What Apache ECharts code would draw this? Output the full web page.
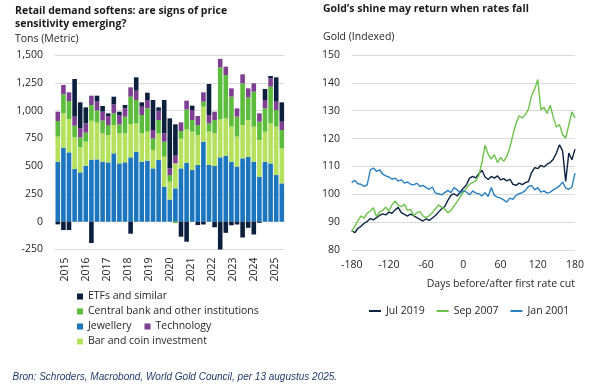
<!DOCTYPE html>
<html><head><meta charset="utf-8">
<script src="https://cdn.jsdelivr.net/npm/echarts@6/dist/echarts.min.js"></script>
<style>html,body{margin:0;padding:0;background:#fff}#c{width:593px;height:390px}</style>
</head><body><div id="c"></div>
<script>
// ---- Left chart: quarterly gold demand (tonnes) ----
const quarters = ['2015 Q2','2015 Q3','2015 Q4','2016 Q1','2016 Q2','2016 Q3','2016 Q4','2017 Q1','2017 Q2','2017 Q3','2017 Q4','2018 Q1','2018 Q2','2018 Q3','2018 Q4','2019 Q1','2019 Q2','2019 Q3','2019 Q4','2020 Q1','2020 Q2','2020 Q3','2020 Q4','2021 Q1','2021 Q2','2021 Q3','2021 Q4','2022 Q1','2022 Q2','2022 Q3','2022 Q4','2023 Q1','2023 Q2','2023 Q3','2023 Q4','2024 Q1','2024 Q2','2024 Q3','2024 Q4','2025 Q1','2025 Q2'];
const jewellery    = [540,666,624,474,444,504,558,561,540,534,615,525,534,579,630,540,549,480,555,315,200,300,480,530,465,510,720,510,501,579,594,540,495,570,585,540,405,540,525,420,345];
const barAndCoin   = [225,309,300,285,225,216,350,330,255,246,255,270,261,300,255,255,261,165,240,270,160,225,270,300,345,270,315,300,294,342,336,315,270,300,330,315,330,270,360,435,315];
const centralBank  = [141,171,162,105,90,81,142,110,115,90,105,81,150,246,210,165,210,105,120,135,60,-12,66,180,105,90,45,75,120,468,390,270,180,375,204,315,165,210,330,150,165];
const technology   = [84,84,78,81,81,84,84,80,80,80,80,80,75,84,84,75,75,75,84,75,60,69,78,79,90,81,84,75,75,76,75,75,75,81,81,75,75,75,75,75,75];
const etfs         = [-24,-75,-75,339,234,144,-192,53,51,25,70,34,30,-108,120,39,66,270,30,300,450,282,-135,-180,39,-30,-25,279,-50,-250,-100,-32,-25,-142,-55,-115,-10,99,21,219,174];
const yearTicks    = [2015,2016,2017,2018,2019,2020,2021,2022,2023,2024,2025];
const demandTicks  = [-250,0,250,500,750,1000,1250,1500];

// ---- Right chart: gold indexed around first rate cut ----
const days = [-180,-175,-170,-165,-160,-155,-150,-145,-140,-135,-130,-125,-120,-115,-110,-105,-100,-95,-90,-85,-80,-75,-70,-65,-60,-55,-50,-45,-40,-35,-30,-25,-20,-15,-10,-5,0,5,10,15,20,25,30,35,40,45,50,55,60,65,70,75,80,85,90,95,100,105,110,115,120,125,130,135,140,145,150,155,160,165,170,175,180];
const jul2019 = [87,86.2,87.8,88.5,89.6,90.2,91.3,90.8,91.6,92.4,93.0,92.6,93.6,93.2,94.4,95.3,93.4,92.8,92.2,92.9,92.3,91.6,91.0,90.4,91.2,90.6,91.5,92.4,93.6,94.8,95.6,97.8,99.6,100.2,99.4,100.8,102.2,103.4,105.8,106.4,105.9,107.4,108.6,106.2,105.3,106.4,105.8,106.6,105.2,105.6,104.8,105.4,103.6,103.2,104.0,103.5,104.2,104.6,107.8,109.6,109.2,110.4,109.8,110.8,111.4,112.6,114.8,117.8,115.6,104.6,114.8,112.4,116.2];
const sep2007 = [86.5,88.6,90.6,92.2,91.4,93.2,94.0,95.2,92.0,93.6,94.2,95.4,94.0,96.2,97.6,96.0,95.6,96.4,94.2,94.6,92.4,93.4,93.8,92.2,91.6,92.4,93.4,94.8,96.2,95.4,94.6,93.4,94.2,95.8,97.4,99.2,100.8,102.2,103.6,104.2,104.8,106.8,111.4,117.6,114.4,112.6,114.2,111.4,113.2,111.8,113.6,116.8,121.4,125.6,128.2,127.4,128.6,130.6,135.4,137.8,141.2,130.4,131.2,129.0,132.0,127.6,124.2,125.0,121.4,120.2,124.8,129.6,127.4];
const jan2001 = [104.2,105.0,103.8,103.6,102.8,103.4,108.8,109.4,108.2,108.8,107.2,106.6,106.2,105.4,105.8,104.8,105.2,104.0,104.4,103.6,103.4,104.0,102.8,103.2,102.4,101.8,102.6,100.4,100.2,99.8,100.6,101.4,100.6,102.4,101.6,100.4,101.2,100.8,99.8,101.2,100.4,100.2,99.4,100.6,99.2,102.4,99.6,99.0,98.6,98.0,97.2,98.6,98.2,99.6,100.2,100.6,101.4,102.8,103.2,101.6,102.4,100.8,101.2,100.4,100.8,101.6,102.2,103.0,104.4,102.2,101.8,102.6,107.6];
const dayTicks = [-180,-120,-60,0,60,120,180];
const goldTicks = [80,90,100,110,120,130,140,150];

const FONT = '"Open Sans", "Noto Sans", sans-serif';
const C = {
  jew: '#1c76bf', bar: '#b5e15c', cb: '#5cbd3c', tech: '#7e3f92', etf: '#0c1f3d',
  l19: '#0c2341', l07: '#6cc34a', l01: '#2b80c3'
};
const txt = {fontFamily: FONT, fontSize: 10.5, color: '#262626'};

function barSeries(name, data, color) {
  return {name, type: 'bar', stack: 'demand', xAxisIndex: 0, yAxisIndex: 0,
    data, barCategoryGap: '18%', itemStyle: {color}, emphasis: {disabled: true}};
}
function lineSeries(name, data, color) {
  return {name, type: 'line', xAxisIndex: 2, yAxisIndex: 1, showSymbol: false,
    data: days.map((d, i) => [d, data[i]]), lineStyle: {color, width: 1.4}, itemStyle: {color},
    emphasis: {disabled: true}};
}
const legendBase = {padding: 0, icon: 'rect', itemWidth: 6, itemHeight: 6, selectedMode: false,
  textStyle: Object.assign({}, txt)};

const chart = echarts.init(document.getElementById('c'), null, {renderer: 'canvas'});
chart.setOption({
  animation: false,
  backgroundColor: '#fff',
  textStyle: {fontFamily: FONT},
  grid: [
    {left: 55, top: 55, width: 229.6, height: 194.5},
    {left: 351.7, top: 55, width: 223.3, height: 195}
  ],
  xAxis: [
    {type: 'category', gridIndex: 0, data: quarters, axisLine: {show: false}, axisTick: {show: false}, axisLabel: {show: false}},
    {type: 'value', gridIndex: 0, min: 2014.524, max: 2025.457, position: 'bottom',
      axisLine: {show: false}, axisTick: {show: false}, splitLine: {show: false},
      axisLabel: Object.assign({customValues: yearTicks, rotate: 90, margin: 8, formatter: v => String(v)}, txt)},
    {type: 'value', gridIndex: 1, min: dayTicks[0], max: dayTicks[dayTicks.length - 1], interval: 60,
      axisLine: {show: false}, axisTick: {show: false}, splitLine: {show: false},
      axisLabel: Object.assign({margin: 10}, txt)}
  ],
  yAxis: [
    {type: 'value', gridIndex: 0, min: demandTicks[0], max: demandTicks[demandTicks.length - 1], interval: 250,
      axisLine: {show: false}, axisTick: {show: false},
      splitLine: {lineStyle: {color: '#d9d9d9', width: 1}},
      axisLabel: Object.assign({margin: 12, formatter: v => v.toLocaleString('en-US')}, txt)},
    {type: 'value', gridIndex: 1, min: goldTicks[0], max: goldTicks[goldTicks.length - 1], interval: 10,
      axisLine: {show: false}, axisTick: {show: false},
      splitLine: {lineStyle: {color: '#d9d9d9', width: 1}},
      axisLabel: Object.assign({margin: 11.7}, txt)}
  ],
  legend: [
    Object.assign({}, legendBase, {data: ['ETFs and similar'], left: 77, top: 291}),
    Object.assign({}, legendBase, {data: ['Central bank and other institutions'], left: 77, top: 306}),
    Object.assign({}, legendBase, {data: ['Jewellery', 'Technology'], left: 77, top: 321, itemGap: 13}),
    Object.assign({}, legendBase, {data: ['Bar and coin investment'], left: 77, top: 336}),
    Object.assign({}, legendBase, {data: ['Jul 2019', 'Sep 2007', 'Jan 2001'], left: 369, top: 305.5,
      itemWidth: 12, itemHeight: 2, itemGap: 12})
  ],
  graphic: [
    {type: 'text', left: 15, top: 4.5, style: {text: 'Retail demand softens: are signs of price\nsensitivity emerging?', font: 'bold 10.5px ' + FONT, fill: '#1a1a1a', lineHeight: 13}},
    {type: 'text', left: 15, top: 33.5, style: {text: 'Tons (Metric)', font: '10.5px ' + FONT, fill: '#262626'}},
    {type: 'text', left: 323, top: 3.5, style: {text: 'Gold’s shine may return when rates fall', font: 'bold 10.5px ' + FONT, fill: '#1a1a1a'}},
    {type: 'text', left: 323, top: 32, style: {text: 'Gold (Indexed)', font: '10.5px ' + FONT, fill: '#262626'}},
    {type: 'text', right: 18, top: 279, style: {text: 'Days before/after first rate cut', font: '10.5px ' + FONT, fill: '#262626'}},
    {type: 'text', left: 12.5, top: 372.5, style: {text: 'Bron: Schroders, Macrobond, World Gold Council, per 13 augustus 2025.', font: 'italic 10px "Liberation Sans", Arial, sans-serif', fill: '#1f3b6b'}}
  ],
  series: [
    barSeries('Jewellery', jewellery, C.jew),
    barSeries('Bar and coin investment', barAndCoin, C.bar),
    barSeries('Central bank and other institutions', centralBank, C.cb),
    barSeries('Technology', technology, C.tech),
    barSeries('ETFs and similar', etfs, C.etf),
    lineSeries('Jul 2019', jul2019, C.l19),
    lineSeries('Sep 2007', sep2007, C.l07),
    lineSeries('Jan 2001', jan2001, C.l01)
  ]
});
</script></body></html>
